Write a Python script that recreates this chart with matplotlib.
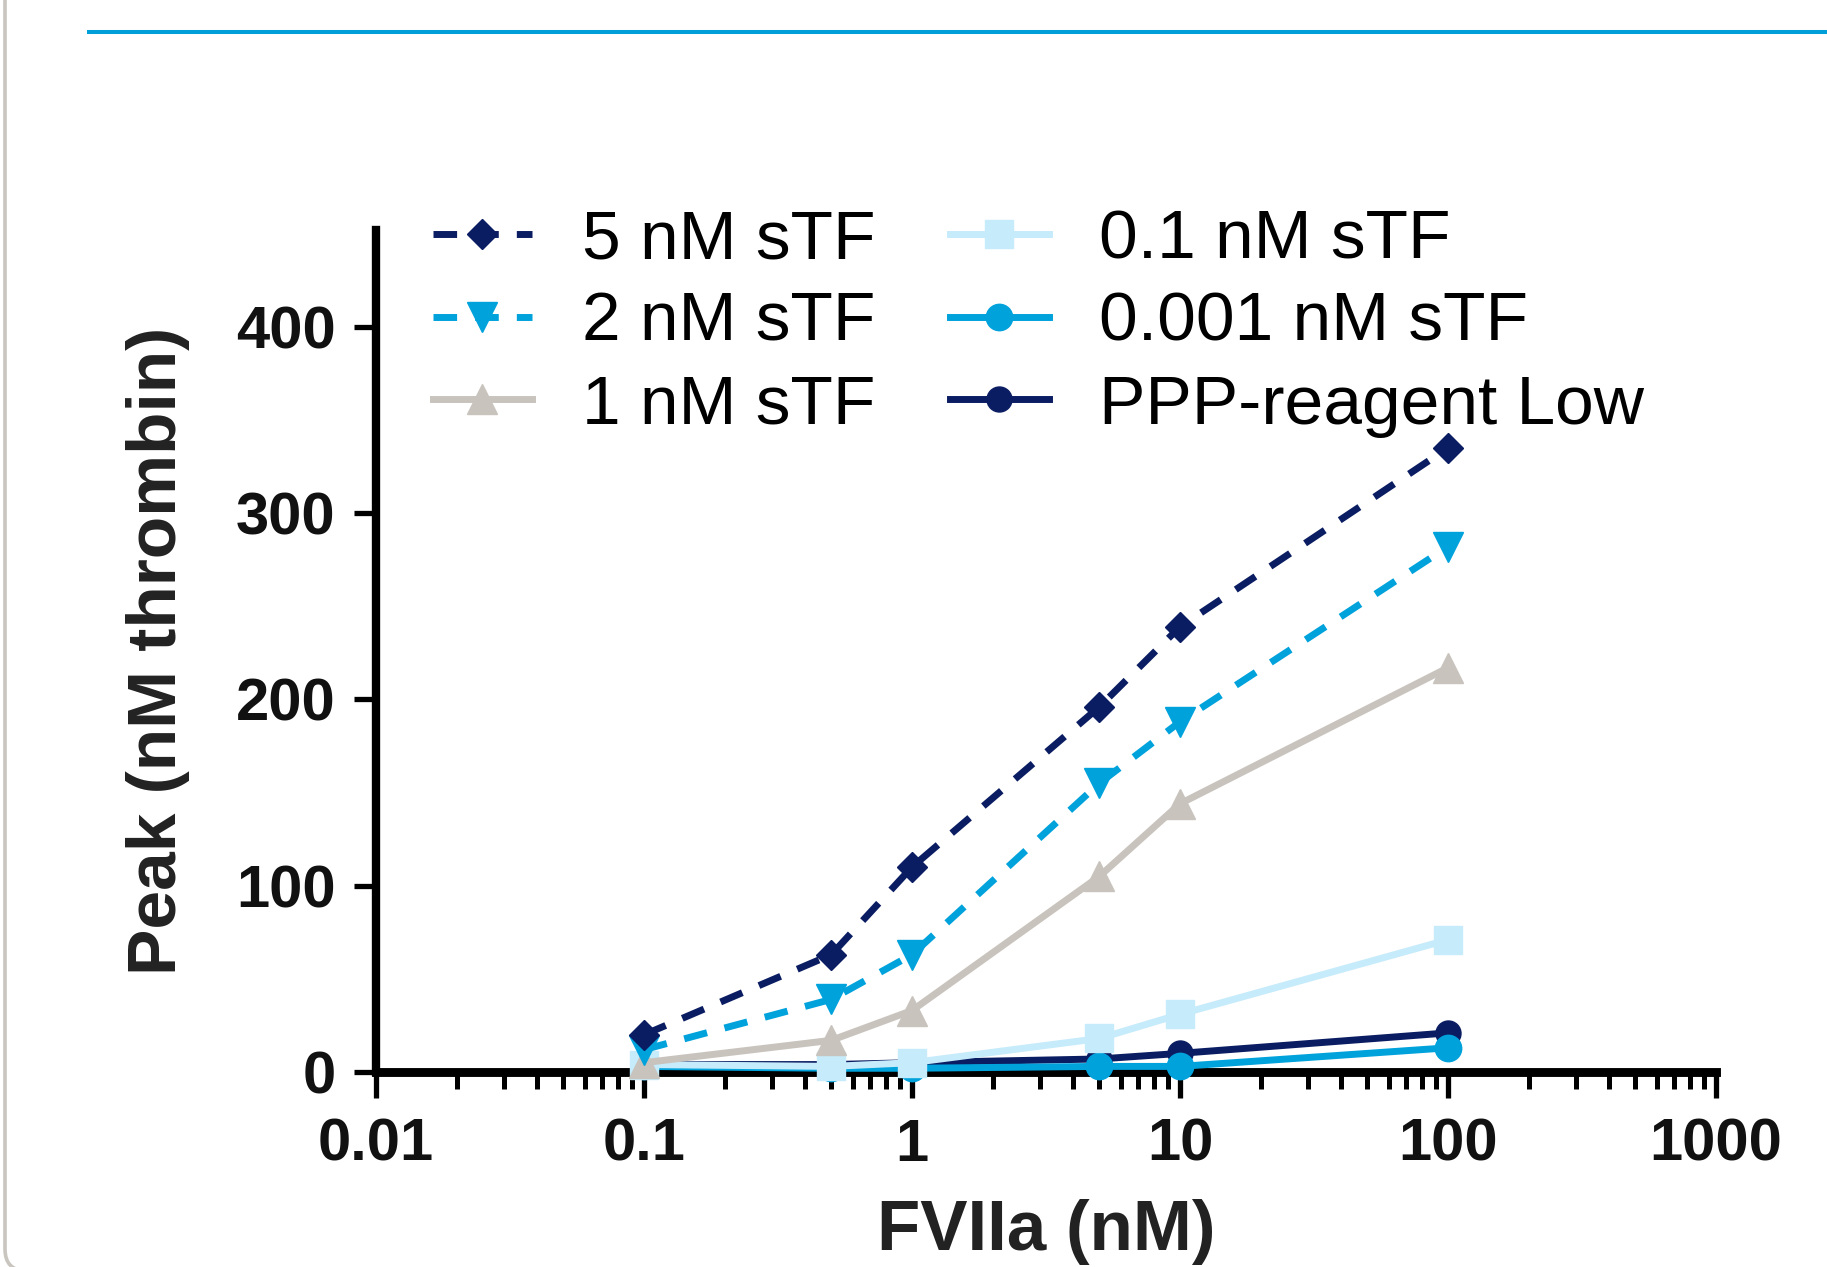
import matplotlib
matplotlib.use("Agg")
import matplotlib.pyplot as plt
from matplotlib.lines import Line2D
from matplotlib.patches import FancyBboxPatch
from matplotlib.transforms import IdentityTransform
from matplotlib.ticker import FixedLocator, LogLocator, NullFormatter

# ---------------- data ----------------
fviia = [0.1, 0.5, 1, 5, 10, 100]
peak_5nM = [20, 63, 110, 196, 239, 335]
peak_2nM = [12, 39, 63, 155, 188, 282]
peak_1nM = [5, 17, 33, 105, 144, 217]
peak_01nM = [4, 3, 5, 18, 31, 71]
peak_0001nM = [3, 2, 2, 3, 3, 13]
peak_ppp = [4, 4, 5, 7, 10, 21]

labels = ["5 nM sTF", "2 nM sTF", "1 nM sTF",
          "0.1 nM sTF", "0.001 nM sTF", "PPP-reagent Low"]
xticks = [0.01, 0.1, 1, 10, 100, 1000]
xtick_labels = ["0.01", "0.1", "1", "10", "100", "1000"]
yticks = [0, 100, 200, 300, 400]
xlabel = "FVIIa (nM)"
ylabel = "Peak (nM thrombin)"

# ---------------- style ----------------
plt.rcParams['font.family'] = ['Liberation Sans', 'DejaVu Sans']
W, H = 1827, 1267
fig = plt.figure(figsize=(W / 100, H / 100), dpi=100)
fig.patch.set_facecolor("white")

ax = fig.add_axes([376 / W, 1 - 1072 / H, 1340 / W, 842 / H])

navy = "#0b1d62"
cyan = "#00a2dc"
gray = "#c8c3bd"
light = "#c6ebfb"

lw = 5.0
dash = (3.4, 2.6)
h_ppp, = ax.plot(fviia, peak_ppp, color=navy, lw=lw, marker="o", ms=18,
                 clip_on=False, zorder=3)
h_0001, = ax.plot(fviia, peak_0001nM, color=cyan, lw=lw, marker="o", ms=19,
                  clip_on=False, zorder=4)
h_01, = ax.plot(fviia, peak_01nM, color=light, lw=lw, marker="s", ms=20,
                clip_on=False, zorder=5)
h_1, = ax.plot(fviia, peak_1nM, color=gray, lw=lw, marker="^", ms=22,
               clip_on=False, zorder=6)
h_2, = ax.plot(fviia, peak_2nM, color=cyan, lw=lw, marker="v", ms=22,
               dashes=dash, clip_on=False, zorder=7)
h_5, = ax.plot(fviia, peak_5nM, color=navy, lw=lw, marker="D", ms=15,
               dashes=dash, clip_on=False, zorder=8)

ax.set_xscale("log")
ax.set_xlim(0.01, 1000)
ax.set_ylim(0, 452)

ax.xaxis.set_major_locator(FixedLocator(xticks))
ax.set_xticklabels(xtick_labels)
ax.xaxis.set_minor_locator(LogLocator(base=10, subs=range(2, 10), numticks=20))
ax.xaxis.set_minor_formatter(NullFormatter())
ax.set_yticks(yticks)

for s in ["top", "right"]:
    ax.spines[s].set_visible(False)
ax.spines["bottom"].set_linewidth(6.4)
ax.spines["left"].set_linewidth(6.0)

ax.tick_params(axis="x", which="major", length=19, width=3.8, pad=14,
               labelsize=43, direction="out")
ax.tick_params(axis="x", which="minor", length=12, width=3.6, direction="out")
ax.tick_params(axis="y", which="major", length=16, width=3.8, pad=13,
               labelsize=43, direction="out")
for t in ax.get_xticklabels() + ax.get_yticklabels():
    t.set_fontweight("bold")
    t.set_color("#111111")

ax.set_xlabel(xlabel, fontsize=51, fontweight="bold", color="#222222")
ax.set_ylabel(ylabel, fontsize=50, fontweight="bold", color="#222222")
ax.xaxis.set_label_coords(0.5, (1072 - 1232) / 842)
ax.xaxis.label.set_va("center")
ax.yaxis.set_label_coords((158 - 376) / 1340, 0.5)
ax.yaxis.label.set_va("center")

# legends (two columns)
leg_kw = dict(frameon=False, fontsize=50, handlelength=1.42, handletextpad=0.72,
              labelspacing=0.27, borderpad=0, borderaxespad=0,
              loc="center left", bbox_transform=fig.transFigure)
leg1 = ax.legend([h_5, h_2, h_1], labels[:3],
                 bbox_to_anchor=(433 / W, 1 - 323 / H), **leg_kw)
ax.add_artist(leg1)
leg2 = ax.legend([h_01, h_0001, h_ppp], labels[3:],
                 bbox_to_anchor=(950 / W, 1 - 323 / H), **leg_kw)

# decorations: top rule and rounded page border
fig.add_artist(Line2D([89 / W, 1.0], [1 - 32 / H, 1 - 32 / H],
                      color="#009fd9", lw=2.9, transform=fig.transFigure))
border = FancyBboxPatch((5, -4), 4000, 4000,
                        boxstyle="round,pad=0,rounding_size=22",
                        edgecolor="#c9c5bf", facecolor="none", lw=2.6,
                        transform=IdentityTransform(), clip_on=False)
fig.add_artist(border)

fig.savefig("out.png", dpi=100, facecolor="white")
